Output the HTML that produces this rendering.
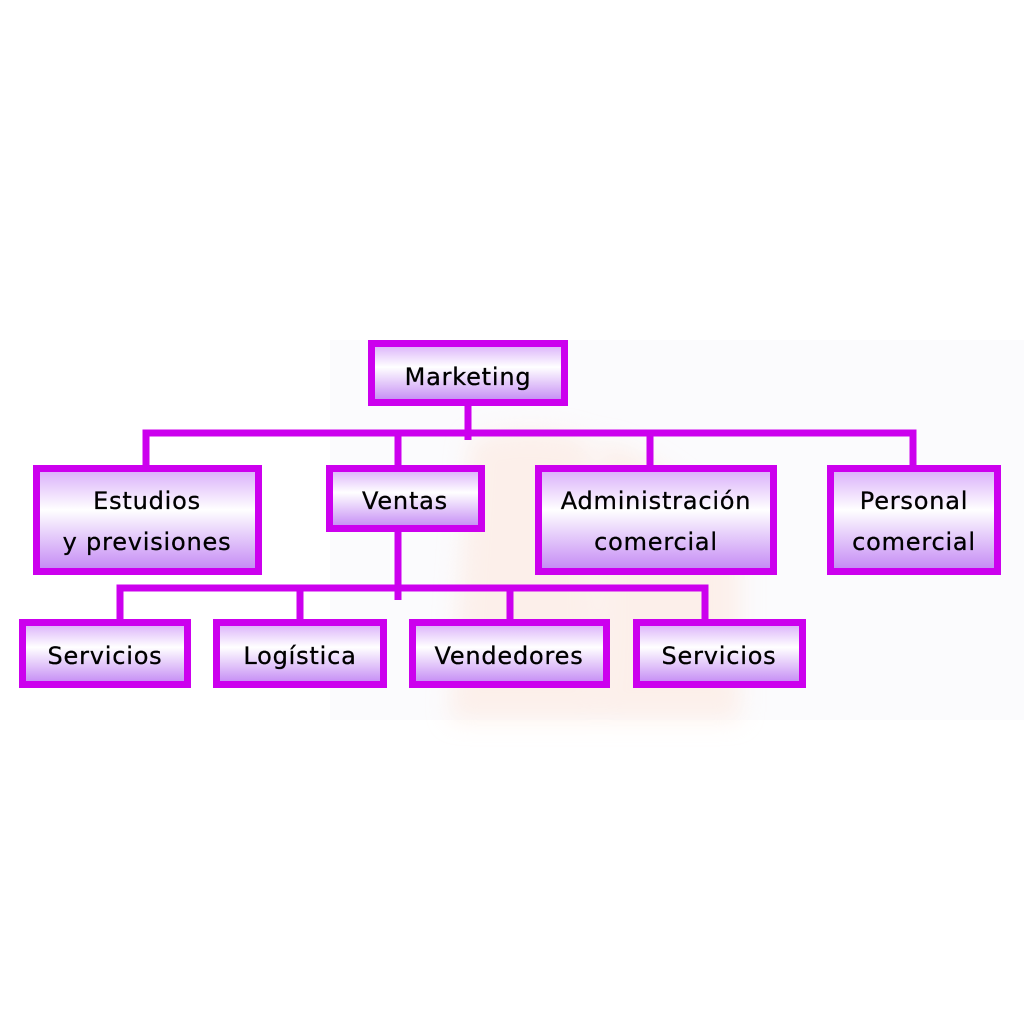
<!DOCTYPE html>
<html><head><meta charset="utf-8"><style>
html,body{margin:0;padding:0;background:#fff;}
svg{display:block;}
text{font-family:"DejaVu Sans","Liberation Sans",sans-serif;font-size:24px;fill:#000;text-anchor:middle;letter-spacing:0.8px;stroke:#000;stroke-width:0.3px;}
</style></head><body>
<svg width="1024" height="1024" viewBox="0 0 1024 1024" xmlns="http://www.w3.org/2000/svg">
<defs>
<linearGradient id="g" x1="0" y1="0" x2="0" y2="1">
<stop offset="0" stop-color="#d8acfa"/>
<stop offset="0.4" stop-color="#ffffff"/>
<stop offset="1" stop-color="#c286f4"/>
</linearGradient>
<filter id="b"><feGaussianBlur stdDeviation="12"/></filter>
</defs>
<rect x="0" y="0" width="1024" height="1024" fill="#fff"/>
<rect x="330" y="340" width="694" height="380" fill="#fbfbfd"/>
<g filter="url(#b)" opacity="0.5">
<path d="M470 440 Q530 420 590 440 L600 720 L450 720 Z" fill="#fde4d8"/>
<path d="M600 440 Q700 470 740 560 L740 720 L600 720 Z" fill="#fde4d8"/>
</g>
<g stroke="#cc00ee" stroke-width="7" fill="none">
<line x1="468" y1="404" x2="468" y2="440"/>
<polyline points="146,472 146,433 913,433 913,472"/>
<line x1="398" y1="433" x2="398" y2="470"/>
<line x1="650" y1="433" x2="650" y2="470"/>
<line x1="398" y1="517" x2="398" y2="600"/>
<polyline points="120,625 120,588 705,588 705,625"/>
<line x1="300" y1="588" x2="300" y2="625"/>
<line x1="510" y1="588" x2="510" y2="625"/>
</g>
<g stroke="#cc00ee" stroke-width="7" fill="url(#g)">
<rect x="371.5" y="343.5" width="193" height="59"/>
<rect x="36.5" y="468.5" width="222" height="103"/>
<rect x="329.5" y="468.5" width="152" height="60"/>
<rect x="538.5" y="468.5" width="235" height="103"/>
<rect x="830.5" y="468.5" width="167" height="103"/>
<rect x="22.5" y="622.5" width="165" height="62"/>
<rect x="216.5" y="622.5" width="167" height="62"/>
<rect x="412.5" y="622.5" width="194" height="62"/>
<rect x="636.5" y="622.5" width="166" height="62"/>
</g>
<text x="468" y="385">Marketing</text>
<text x="147" y="509">Estudios</text>
<text x="147" y="550">y previsiones</text>
<text x="405" y="509">Ventas</text>
<text x="656" y="509">Administración</text>
<text x="656" y="550">comercial</text>
<text x="914" y="509">Personal</text>
<text x="914" y="550">comercial</text>
<text x="105" y="664">Servicios</text>
<text x="300" y="664">Logística</text>
<text x="509" y="664">Vendedores</text>
<text x="719" y="664">Servicios</text>
</svg>
</body></html>
